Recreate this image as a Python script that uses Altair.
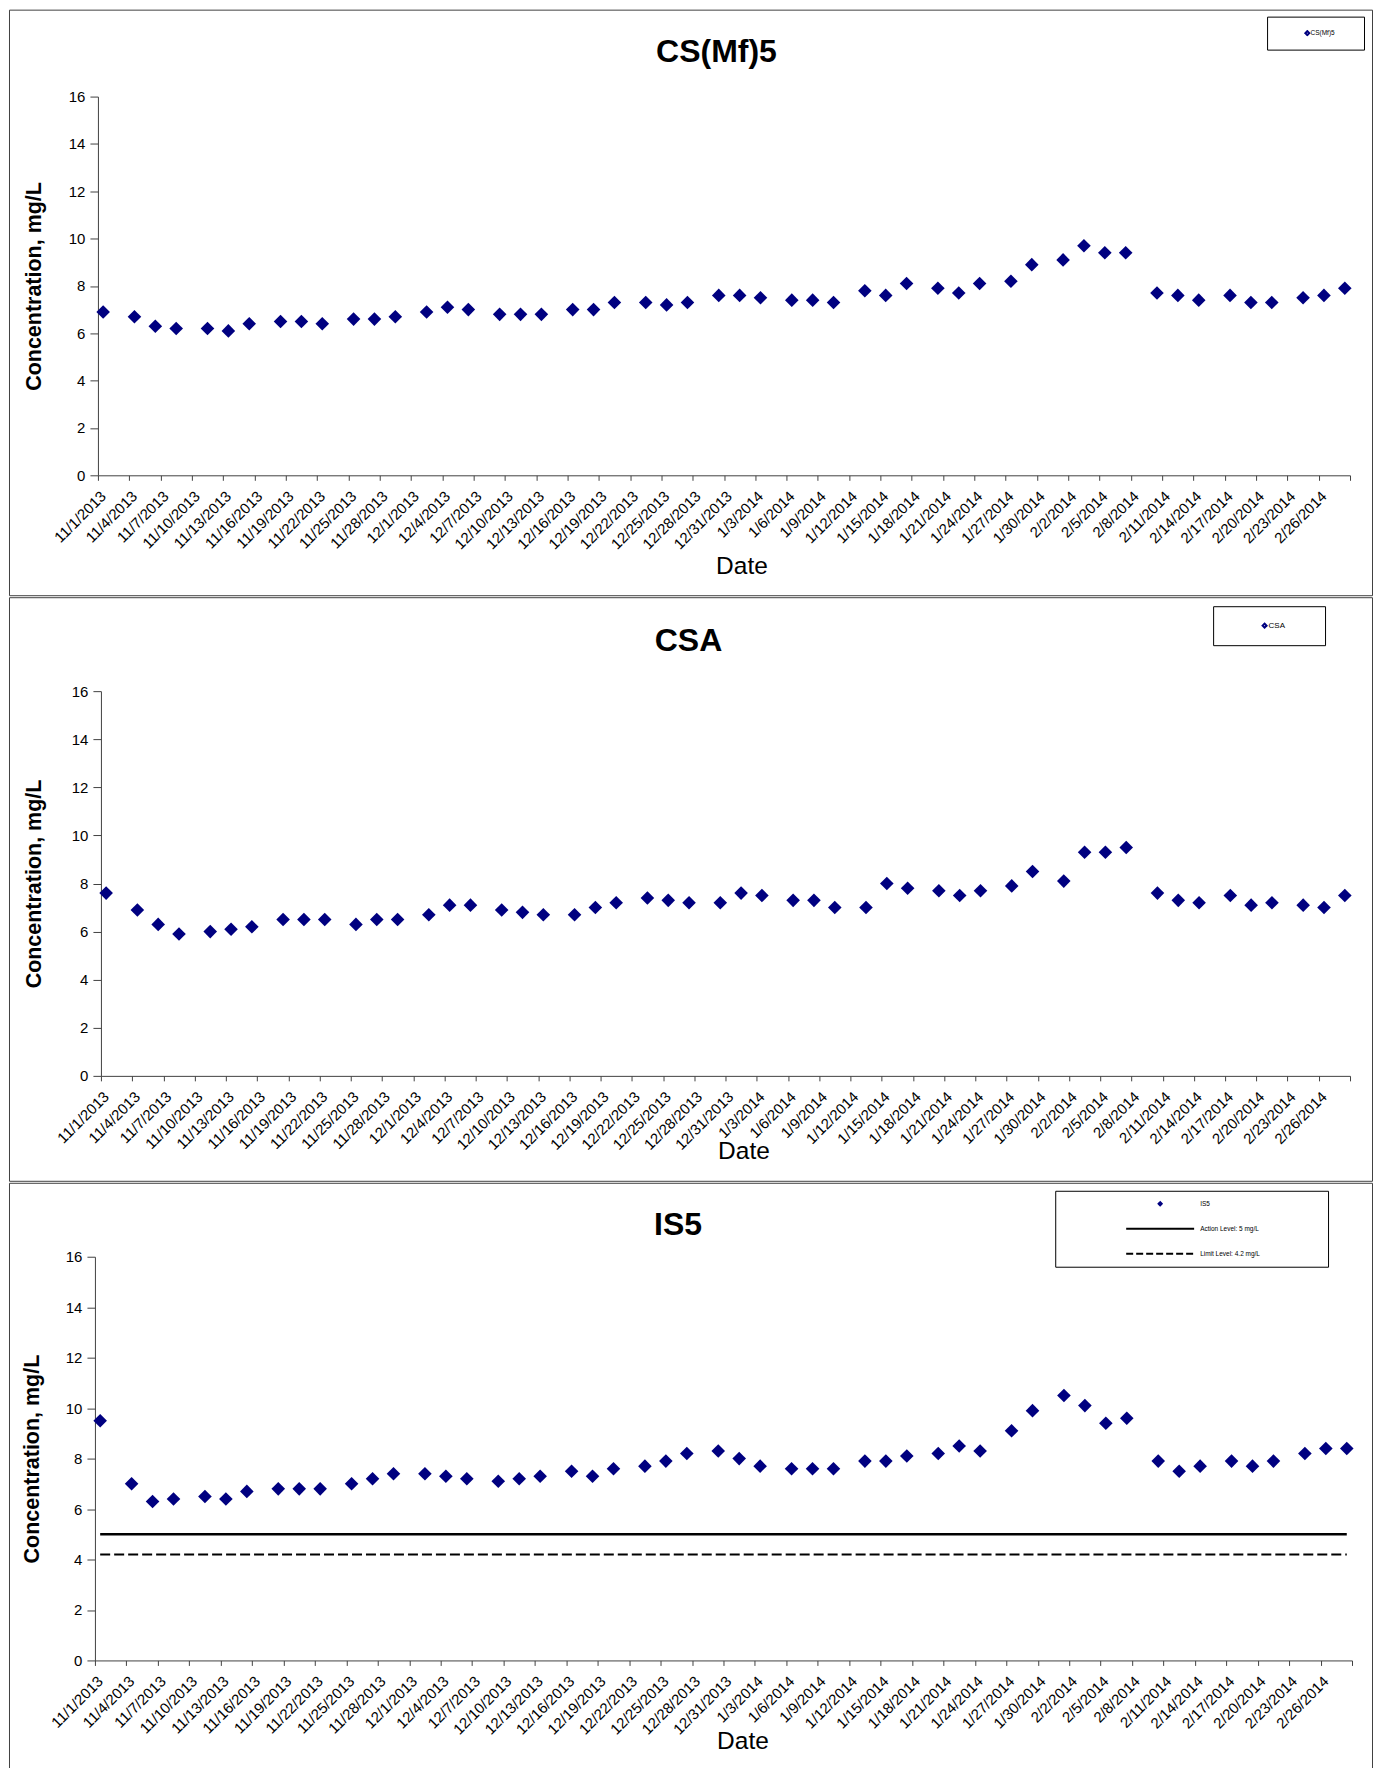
import altair as alt
import pandas as pd

# ---------------- data ----------------
DATES = [
    "2013-11-01", "2013-11-04", "2013-11-06", "2013-11-08", "2013-11-11", "2013-11-13", "2013-11-15",
    "2013-11-18", "2013-11-20", "2013-11-22", "2013-11-25", "2013-11-27", "2013-11-29",
    "2013-12-02", "2013-12-04", "2013-12-06", "2013-12-09", "2013-12-11", "2013-12-13", "2013-12-16",
    "2013-12-18", "2013-12-20", "2013-12-23", "2013-12-25", "2013-12-27", "2013-12-30",
    "2014-01-01", "2014-01-03", "2014-01-06", "2014-01-08", "2014-01-10", "2014-01-13", "2014-01-15",
    "2014-01-17", "2014-01-20", "2014-01-22", "2014-01-24", "2014-01-27", "2014-01-29",
    "2014-02-01", "2014-02-03", "2014-02-05", "2014-02-07", "2014-02-10", "2014-02-12", "2014-02-14",
    "2014-02-17", "2014-02-19", "2014-02-21", "2014-02-24", "2014-02-26", "2014-02-28",
]

CSMF5 = [6.9, 6.7, 6.3, 6.2, 6.2, 6.1, 6.4, 6.5, 6.5, 6.4, 6.6, 6.6, 6.7,
         6.9, 7.1, 7.0, 6.8, 6.8, 6.8, 7.0, 7.0, 7.3, 7.3, 7.2, 7.3, 7.6,
         7.6, 7.5, 7.4, 7.4, 7.3, 7.8, 7.6, 8.1, 7.9, 7.7, 8.1, 8.2, 8.9,
         9.1, 9.7, 9.4, 9.4, 7.7, 7.6, 7.4, 7.6, 7.3, 7.3, 7.5, 7.6, 7.9]

CSA = [7.6, 6.9, 6.3, 5.9, 6.0, 6.1, 6.2, 6.5, 6.5, 6.5, 6.3, 6.5, 6.5,
       6.7, 7.1, 7.1, 6.9, 6.8, 6.7, 6.7, 7.0, 7.2, 7.4, 7.3, 7.2, 7.2,
       7.6, 7.5, 7.3, 7.3, 7.0, 7.0, 8.0, 7.8, 7.7, 7.5, 7.7, 7.9, 8.5,
       8.1, 9.3, 9.3, 9.5, 7.6, 7.3, 7.2, 7.5, 7.1, 7.2, 7.1, 7.0, 7.5]

IS5 = [9.5, 7.0, 6.3, 6.4, 6.5, 6.4, 6.7, 6.8, 6.8, 6.8, 7.0, 7.2, 7.4,
       7.4, 7.3, 7.2, 7.1, 7.2, 7.3, 7.5, 7.3, 7.6, 7.7, 7.9, 8.2, 8.3,
       8.0, 7.7, 7.6, 7.6, 7.6, 7.9, 7.9, 8.1, 8.2, 8.5, 8.3, 9.1, 9.9,
       10.5, 10.1, 9.4, 9.6, 7.9, 7.5, 7.7, 7.9, 7.7, 7.9, 8.2, 8.4, 8.4]

ACTION_LEVEL = 5.0
LIMIT_LEVEL = 4.2
ACTION_NAME = "Action Level: 5 mg/L"
LIMIT_NAME = "Limit Level: 4.2 mg/L"

Y_TICKS = [0, 2, 4, 6, 8, 10, 12, 14, 16]
AXIS_START = "2013-11-01"
AXIS_END = "2014-03-01"
TICK_STEP_DAYS = 3

# ---------------- style ----------------
NAVY = "#000080"
AX = "#404040"
FONT = "Liberation Sans"
TITLE_SIZE = 32

tick_dates = pd.date_range(AXIS_START, AXIS_END, freq=f"{TICK_STEP_DAYS}D")
TICK_VALUES = [alt.DateTime(year=int(d.year), month=int(d.month), date=int(d.day)) for d in tick_dates]
end = pd.Timestamp(AXIS_END)
start = pd.Timestamp(AXIS_START)
X_DOMAIN = [alt.DateTime(year=int(start.year), month=int(start.month), date=int(start.day)),
            alt.DateTime(year=int(end.year), month=int(end.month), date=int(end.day))]
HIDE_LAST = f"datum.value >= datetime({end.year}, {end.month - 1}, {end.day}) ? '' : datum.label"

sample_times = pd.to_datetime(DATES) + pd.Timedelta(hours=12)


def encodings(g):
    x = alt.X(
        "date:T",
        scale=alt.Scale(domain=X_DOMAIN, range=[g["x0"], g["x1"]], nice=False),
        axis=alt.Axis(
            values=TICK_VALUES, format="%-m/%-d/%Y", labelExpr=HIDE_LAST,
            labelAngle=315, labelAlign="right", labelBaseline="top", labelPadding=8,
            labelFontSize=15, labelColor="black", labelFont=FONT,
            labelOverlap=False, labelFlush=False, labelBound=False,
            tickSize=5, tickColor=AX, domainColor=AX, grid=False,
            offset=g["xoff"],
            title="Date", titleFontSize=24.5, titleFontWeight="normal", titleColor="black",
            titleFont=FONT, titleX=g["dtx"], titleY=g["dty"], titleBaseline="alphabetic",
            titleAlign="center",
        ),
    )
    y = alt.Y(
        "value:Q",
        scale=alt.Scale(domain=[0, 16], range=[g["yb"], g["yt"]], nice=False),
        axis=alt.Axis(
            values=Y_TICKS, labelFontSize=15, labelColor="black", labelFont=FONT,
            labelPadding=5, tickSize=8, tickColor=AX, domainColor=AX, grid=False,
            offset=g["yoff"],
            title="Concentration, mg/L", titleFontSize=21.5, titleFontWeight="bold",
            titleColor="black", titleFont=FONT, titleX=g["ytx"], titleY=g["yty"],
            titleAngle=270, titleBaseline="alphabetic", titleAlign="center",
        ),
    )
    return x, y


def legend_layer(names, colors, shapes, dashes, size, lg):
    # trailing blank room inside the legend box (the zero-width end keeps the spaces measured)
    tail = " " * lg["spaces"] + "\u200b"
    leg = alt.Legend(
        orient="none", legendX=lg["x"], legendY=lg["y"], title=None,
        padding=lg["pad"], clipHeight=lg["clip"], rowPadding=lg["rowpad"],
        symbolOffset=lg["soff"], labelOffset=lg["loff"],
        labelFontSize=lg["fs"], labelFont=FONT, labelColor="black",
        strokeColor="black", fillColor="white",
        symbolSize=size, symbolStrokeWidth=2,
        labelExpr=f"datum.label + '{tail}'",
    )
    src = pd.DataFrame({"series": names})
    return (
        alt.Chart(src)
        .transform_filter("false")
        .mark_point(filled=False, strokeWidth=2, size=size, opacity=1)
        .encode(
            color=alt.Color("series:N", scale=alt.Scale(domain=names, range=colors), legend=leg),
            shape=alt.Shape("series:N", scale=alt.Scale(domain=names, range=shapes), legend=leg),
            strokeDash=alt.StrokeDash("series:N", scale=alt.Scale(domain=names, range=dashes), legend=leg),
        )
    )


def panel(name, values, g, lg, with_levels=False):
    x, y = encodings(g)
    df = pd.DataFrame({"date": sample_times, "value": values})
    layers = [
        alt.Chart(df)
        .mark_point(shape="diamond", filled=True, size=185, color=NAVY, opacity=1)
        .encode(x=x, y=y)
    ]
    if with_levels:
        span = [sample_times[0], sample_times[-1]]
        act = pd.DataFrame({"date": span, "value": [ACTION_LEVEL, ACTION_LEVEL]})
        lim = pd.DataFrame({"date": span, "value": [LIMIT_LEVEL, LIMIT_LEVEL]})
        layers.append(alt.Chart(act).mark_line(color="black", strokeWidth=2.6).encode(x=x, y=y))
        layers.append(alt.Chart(lim).mark_line(color="black", strokeWidth=2, strokeDash=[10, 4]).encode(x=x, y=y))
        diamond_path = "M-0.045,0L0,-0.045L0.045,0L0,0.045Z"
        layers.append(legend_layer(
            [name, ACTION_NAME, LIMIT_NAME], [NAVY, "black", "black"],
            [diamond_path, "stroke", "stroke"], [[1, 0], [1, 0], [7, 3]], 4624, lg))
    else:
        layers.append(legend_layer([name], [NAVY], ["diamond"], [[1, 0]], 16, lg))
    return alt.layer(*layers).properties(
        width=g["w"], height=g["h"],
        title=alt.TitleParams(
            text=name, fontSize=TITLE_SIZE, font=FONT, fontWeight="bold", color="black",
            anchor="middle", frame="group", offset=-(g["tb"] + TITLE_SIZE),
            baseline="alphabetic", dx=g["tdx"],
        ),
    )


W = 1364
G1 = dict(w=W, h=586, x0=89, x1=1342, yb=466, yt=87, xoff=-120, yoff=-89,
          dtx=733, dty=98, ytx=-57, yty=276.5, tb=52, tdx=26)
G2 = dict(w=W, h=584, x0=92, x1=1342, yb=479, yt=94, xoff=-105, yoff=-92,
          dtx=735, dty=83, ytx=-60, yty=286.5, tb=54, tdx=-2)
G3 = dict(w=W, h=586, x0=86, x1=1344, yb=478, yt=74, xoff=-108, yoff=-86,
          dtx=734, dty=88, ytx=-56, yty=276, tb=52, tdx=-12.5)

L1 = dict(x=1259, y=7, pad=13, clip=7, rowpad=0, soff=24, loff=0, fs=6.5, spaces=9)
L2 = dict(x=1205, y=9, pad=15.5, clip=8, rowpad=0, soff=32, loff=0, fs=8, spaces=11)
L3 = dict(x=1047, y=8, pad=8, clip=10, rowpad=15, soff=62, loff=5, fs=6.5, spaces=33)

p1 = panel("CS(Mf)5", CSMF5, G1, L1)
p2 = panel("CSA", CSA, G2, L2)
p3 = panel("IS5", IS5, G3, L3, with_levels=True)

chart = (
    alt.vconcat(p1, p2, p3, spacing=0)
    .resolve_scale(x="independent", y="independent", color="independent",
                   shape="independent", strokeDash="independent")
    .resolve_legend(color="independent", shape="independent", strokeDash="independent")
    .properties(padding=0)
    .configure(font=FONT)
    .configure_view(stroke=AX, strokeWidth=1)
)

chart.save("out.html", embed_options={"renderer": "svg", "actions": False})
